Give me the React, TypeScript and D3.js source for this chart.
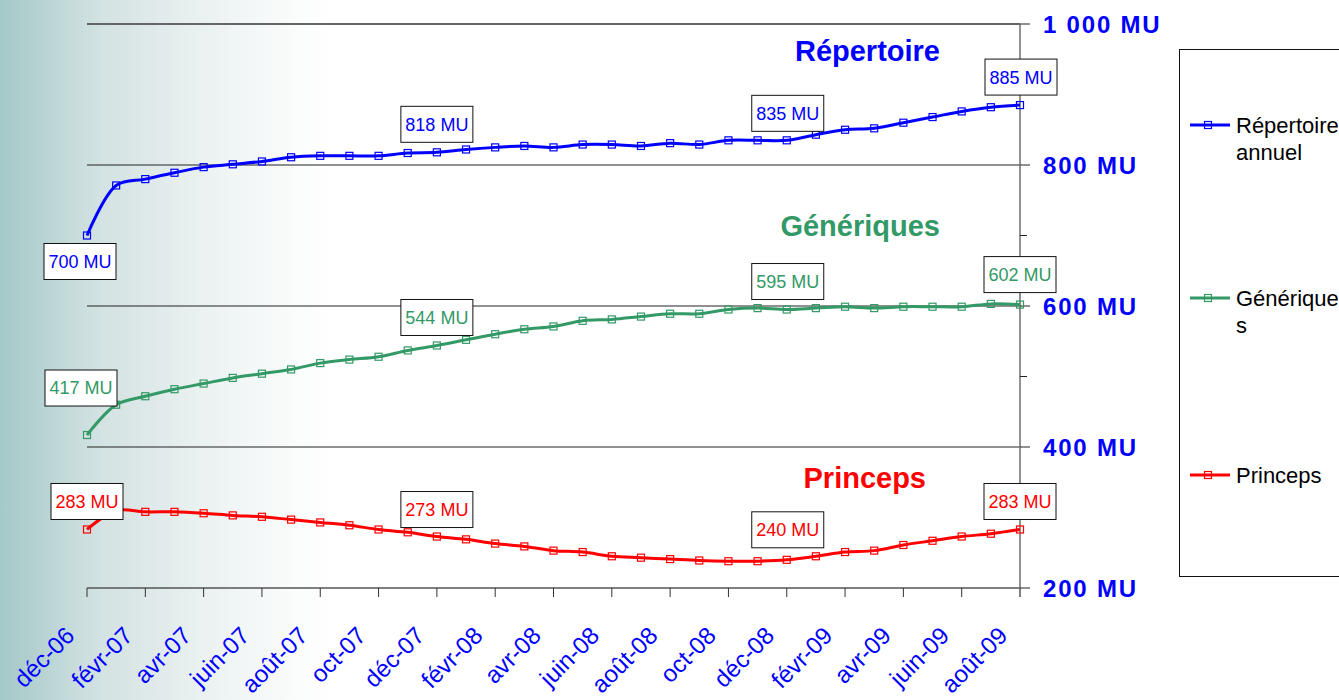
import React from "react";
import * as d3 from "d3";

const months = [
  "déc-06", "janv-07", "févr-07", "mars-07", "avr-07", "mai-07", "juin-07", "juil-07", "août-07", "sept-07", "oct-07", "nov-07",
  "déc-07", "janv-08", "févr-08", "mars-08", "avr-08", "mai-08", "juin-08", "juil-08", "août-08", "sept-08", "oct-08", "nov-08",
  "déc-08", "janv-09", "févr-09", "mars-09", "avr-09", "mai-09", "juin-09", "juil-09", "août-09",
];

const repertoire = [700, 771, 780, 789, 797, 801, 805, 811, 813, 813, 813, 817, 818, 822, 825, 827, 825, 829, 829, 827, 831, 829, 835, 835, 835, 843, 850, 852, 860, 868, 876, 882, 885];
const generiques = [417, 460, 472, 482, 490, 498, 504, 510, 519, 524, 528, 537, 544, 552, 560, 567, 571, 579, 581, 585, 589, 589, 595, 597, 595, 597, 599, 597, 599, 599, 599, 603, 602];
const princeps = [283, 310, 308, 308, 306, 303, 301, 297, 293, 289, 283, 279, 273, 269, 263, 259, 253, 251, 245, 243, 241, 239, 238, 238, 240, 245, 251, 253, 261, 267, 273, 277, 283];

const yTicks = [200, 400, 600, 800, 1000];
const yMinorTicks = [300, 500, 700, 900];
const labelledIdx = [0, 12, 24, 32];

const seriesDefs = [
  { key: "rep", name: "Répertoire", legend: ["Répertoire", "annuel"], values: repertoire, color: "#0000FF" },
  { key: "gen", name: "Génériques", legend: ["Générique", "s"], values: generiques, color: "#339966" },
  { key: "pri", name: "Princeps", legend: ["Princeps"], values: princeps, color: "#FF0000" },
];

// layout (box-center offsets relative to the point)
const labelOffsets: Record<string, [number, number][]> = {
  rep: [[-7, 26], [0, -28], [1, -27], [1, -28]],
  gen: [[-6, -47], [0, -28], [1, -28], [0, -30]],
  pri: [[0, -28], [0, -27], [1, -30], [0, -28]],
};
const titlePos: Record<string, [number, number]> = { rep: [940, 61], gen: [940, 236], pri: [926, 488] };
const legendY: Record<string, number> = { rep: 125, gen: 298, pri: 475 };

const bgStops: [number, string][] = [
  [0, "#a5c9c9"], [0.0224, "#b2cfcf"], [0.056, "#c8dcdc"], [0.0747, "#d3e2e2"],
  [0.112, "#dfe9e9"], [0.149, "#eaf1f1"], [0.187, "#f3f7f7"], [0.224, "#fbfcfc"], [0.25, "#ffffff"], [1, "#ffffff"],
];

export default function App() {
  const W = 1339, H = 700;
  const x = d3.scaleLinear().domain([0, months.length - 1]).range([87, 1020]);
  const y = d3.scaleLinear().domain([200, 1000]).range([588, 24]);
  const line = d3
    .line<number>()
    .x((_, i) => x(i))
    .y((d) => y(d))
    .curve(d3.curveCatmullRom.alpha(0.5));
  const font = "Arial, 'Liberation Sans', sans-serif";
  const tickIdx = months.map((_, i) => i).filter((i) => i % 2 === 0);

  return (
    <svg width={W} height={H} style={{ position: "absolute", left: 0, top: 0, fontFamily: font }}>
      <defs>
        <linearGradient id="bg" x1="0" y1="0" x2="1" y2="0">
          {bgStops.map(([o, c], i) => (
            <stop key={i} offset={o} stopColor={c} />
          ))}
        </linearGradient>
      </defs>
      <rect x={0} y={0} width={W} height={H} fill="url(#bg)" />

      {/* gridlines */}
      {yTicks.filter((t) => t > 200).map((t) => (
        <line key={t} x1={x(0)} x2={x(months.length - 1)} y1={y(t)} y2={y(t)}
          stroke={t === 1000 ? "#666" : "#222"} strokeWidth={t === 1000 ? 2 : 1} />
      ))}

      {/* x axis */}
      <line x1={x(0)} x2={x(months.length - 1)} y1={y(200)} y2={y(200)} stroke="#555" strokeWidth={1.5} />
      {tickIdx.map((i) => (
        <g key={i}>
          <line x1={x(i)} x2={x(i)} y1={y(200)} y2={y(200) + 9} stroke="#333" strokeWidth={1} />
          <text transform={`translate(${x(i) - 11},${y(200) + 49}) rotate(-45)`} textAnchor="end"
            fontSize={24} fill="#0000FF">{months[i]}</text>
        </g>
      ))}

      {/* right axis */}
      <line x1={x(months.length - 1)} x2={x(months.length - 1)} y1={y(1000)} y2={y(200) + 9} stroke="#777" strokeWidth={1.6} />
      {yTicks.map((t) => (
        <g key={t}>
          <line x1={x(months.length - 1)} x2={x(months.length - 1) + 10} y1={y(t)} y2={y(t)} stroke="#222" strokeWidth={1} />
          <text x={1043} y={y(t)} dy="0.36em" fontSize={24} fontWeight="bold" letterSpacing={1.8} fill="#0000FF">
            {d3.format(",")(t).replace(",", " ")} MU
          </text>
        </g>
      ))}
      {yMinorTicks.map((t) => (
        <line key={t} x1={x(months.length - 1)} x2={x(months.length - 1) + 7} y1={y(t)} y2={y(t)} stroke="#222" strokeWidth={1} />
      ))}

      {/* series */}
      {seriesDefs.map((s) => (
        <g key={s.key}>
          <path d={line(s.values) || ""} fill="none" stroke={s.color} strokeWidth={3} />
          {s.values.map((v, i) => (
            <rect key={i} x={x(i) - 3.5} y={y(v) - 3.5} width={7} height={7} fill="none" stroke={s.color} strokeWidth={1.2} />
          ))}
          <text x={titlePos[s.key][0]} y={titlePos[s.key][1]} textAnchor="end" fontSize={29} fontWeight="bold" fill={s.color}>
            {s.name}
          </text>
        </g>
      ))}

      {/* data labels */}
      {seriesDefs.map((s) =>
        labelledIdx.map((idx, j) => {
          const [dx, dy] = labelOffsets[s.key][j];
          const cx = x(idx) + dx, cy = y(s.values[idx]) + dy;
          return (
            <g key={s.key + idx}>
              <rect x={cx - 36} y={cy - 18} width={72} height={36} fill="#fff" stroke="#111" strokeWidth={1} />
              <text x={cx} y={cy} dy="0.36em" textAnchor="middle" fontSize={18} fill={s.color}>
                {s.values[idx]} MU
              </text>
            </g>
          );
        })
      )}

      {/* legend */}
      <rect x={1179.5} y={49.5} width={200} height={527} fill="#fff" stroke="#111" strokeWidth={1} />
      {seriesDefs.map((s) => {
        const ly = legendY[s.key];
        return (
          <g key={s.key}>
            <line x1={1190} x2={1230} y1={ly} y2={ly} stroke={s.color} strokeWidth={3} />
            <rect x={1204.5} y={ly - 3.5} width={7} height={7} fill="none" stroke={s.color} strokeWidth={1.2} />
            {s.legend.map((t, k) => (
              <text key={k} x={1236} y={ly + 8 + k * 27} fontSize={22} fill="#000">{t}</text>
            ))}
          </g>
        );
      })}
    </svg>
  );
}
